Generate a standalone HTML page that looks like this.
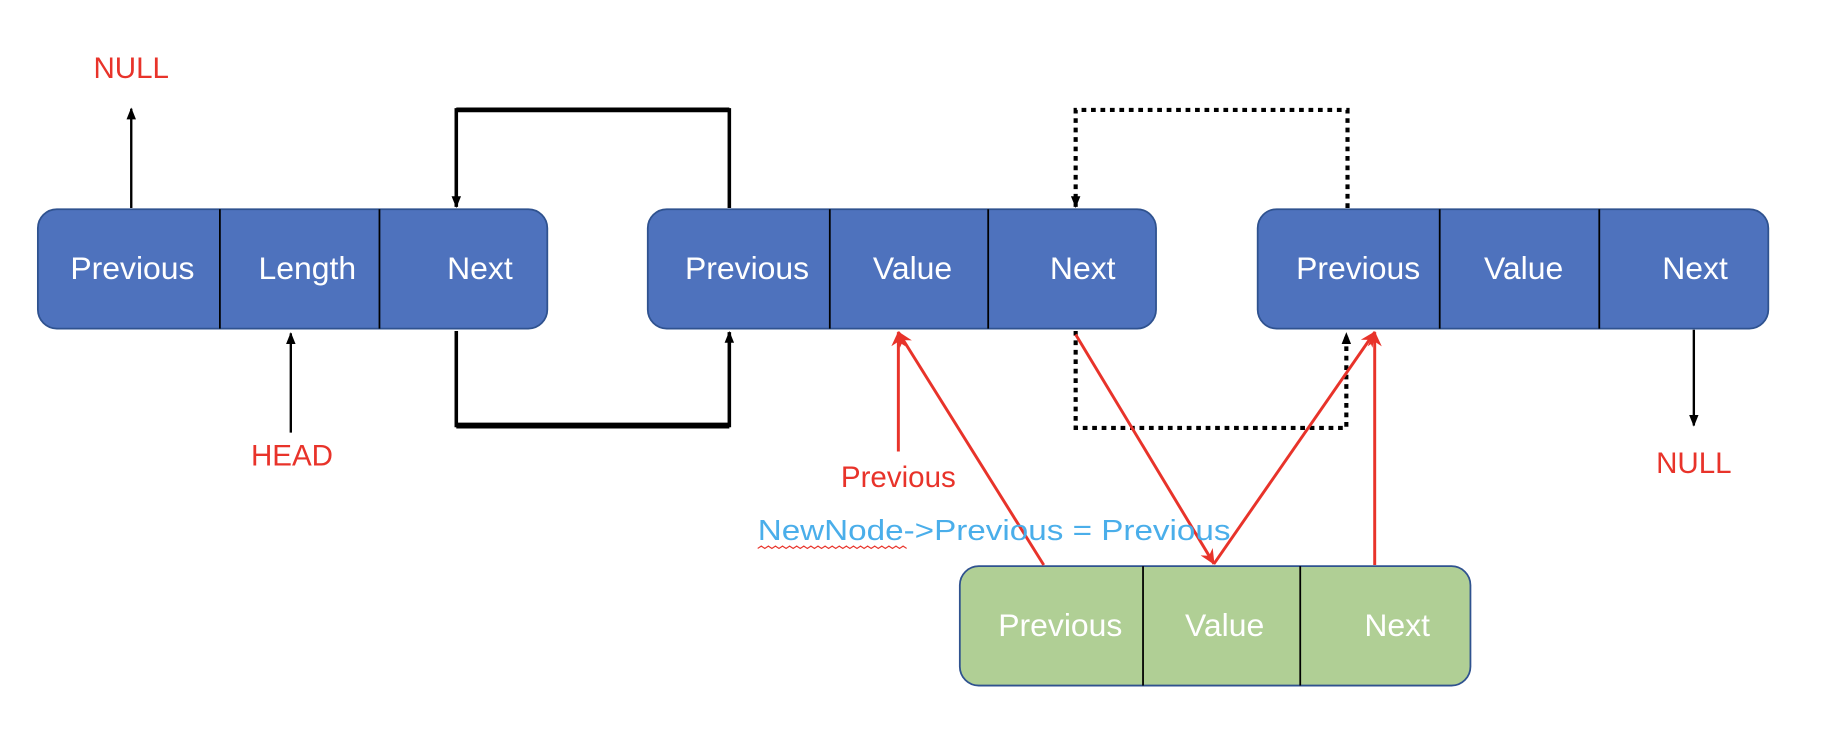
<!DOCTYPE html>
<html><head><style>html,body{margin:0;padding:0;background:#fff;}svg{display:block}</style></head>
<body>
<svg width="1844" height="730" viewBox="0 0 1560 617.6" xmlns="http://www.w3.org/2000/svg" font-family="Liberation Sans, sans-serif">
<defs>
<marker id="ab" markerWidth="10" markerHeight="10" refX="9" refY="5" orient="auto" markerUnits="userSpaceOnUse"><path d="M0,1 L10,5 L0,9 z" fill="#000"/></marker>
<marker id="ar" markerWidth="14" markerHeight="12" refX="12" refY="6" orient="auto" markerUnits="userSpaceOnUse"><path d="M0,0 L13,6 L0,12 L4,6 z" fill="#e8332a"/></marker>
</defs>
<g stroke="#2f528f" stroke-width="1.5">
<rect x="32" y="177" width="431" height="101" rx="16" fill="#4e72bd"/>
<rect x="548" y="177" width="430" height="101" rx="16" fill="#4e72bd"/>
<rect x="1064" y="177" width="432" height="101" rx="16" fill="#4e72bd"/>
<rect x="812" y="479" width="432" height="101" rx="16" fill="#b0cf95"/>
</g>
<g stroke="#000" stroke-width="1.5">
<line x1="186" y1="177" x2="186" y2="278"/><line x1="321" y1="177" x2="321" y2="278"/>
<line x1="702" y1="177" x2="702" y2="278"/><line x1="836" y1="177" x2="836" y2="278"/>
<line x1="1218" y1="177" x2="1218" y2="278"/><line x1="1353" y1="177" x2="1353" y2="278"/>
<line x1="967" y1="479" x2="967" y2="580"/><line x1="1100" y1="479" x2="1100" y2="580"/>
</g>
<g fill="#fff" font-size="27" text-anchor="middle">
<text x="112" y="236">Previous</text><text x="260" y="236">Length</text><text x="406" y="236">Next</text>
<text x="632" y="236">Previous</text><text x="772" y="236">Value</text><text x="916" y="236">Next</text>
<text x="1149" y="236">Previous</text><text x="1289" y="236">Value</text><text x="1434" y="236">Next</text>
<text x="897" y="538">Previous</text><text x="1036" y="538">Value</text><text x="1182" y="538">Next</text>
</g>
<g stroke="#000" stroke-width="2" fill="none">
<line x1="111" y1="176" x2="111" y2="92" marker-end="url(#ab)"/>
<line x1="246" y1="366" x2="246" y2="282" marker-end="url(#ab)"/>
<line x1="1433" y1="279" x2="1433" y2="360" marker-end="url(#ab)"/>
<path d="M617,176 L617,93 L386,93 L386,175" stroke-width="3" marker-end="url(#ab)"/>
<line x1="386" y1="93" x2="617" y2="93" stroke-width="4"/>
<path d="M386,280 L386,360 L617,360 L617,281" stroke-width="3" marker-end="url(#ab)"/>
<line x1="386" y1="360" x2="617" y2="360" stroke-width="5"/>
<path d="M1140,176 L1140,93 L910,93 L910,175" stroke-width="3.5" stroke-dasharray="4 4" marker-end="url(#ab)"/>
<path d="M910,280 L910,362 L1139,362 L1139,282" stroke-width="3.5" stroke-dasharray="4 4" marker-end="url(#ab)"/>
</g>
<g stroke="#e8332a" stroke-width="2.5" fill="none">
<line x1="760" y1="382" x2="760" y2="281" marker-end="url(#ar)"/>
<line x1="883" y1="478" x2="760" y2="281" marker-end="url(#ar)"/>
<line x1="910" y1="283" x2="1027" y2="477" marker-end="url(#ar)"/>
<line x1="1027" y1="477" x2="1163" y2="281" marker-end="url(#ar)"/>
<line x1="1163" y1="478" x2="1163" y2="281" marker-end="url(#ar)"/>
</g>
<g fill="#e8332a" font-size="25" text-anchor="middle">
<text x="111" y="66">NULL</text>
<text x="247" y="394">HEAD</text>
<text x="1433" y="400">NULL</text>
<text x="760" y="412">Previous</text>
</g>
<text x="641" y="457" font-size="24" fill="#4aaeea" textLength="400" lengthAdjust="spacingAndGlyphs">NewNode-&gt;Previous = Previous</text>
<path d="M641,464 l3,-2 l3,2 l3,-2 l3,2 l3,-2 l3,2 l3,-2 l3,2 l3,-2 l3,2 l3,-2 l3,2 l3,-2 l3,2 l3,-2 l3,2 l3,-2 l3,2 l3,-2 l3,2 l3,-2 l3,2 l3,-2 l3,2 l3,-2 l3,2 l3,-2 l3,2 l3,-2 l3,2 l3,-2 l3,2 l3,-2 l3,2 l3,-2 l3,2 l3,-2 l3,2 l3,-2 l3,2 l3,-2 l3,2" stroke="#e8332a" stroke-width="1" fill="none"/>
</svg>
</body></html>
